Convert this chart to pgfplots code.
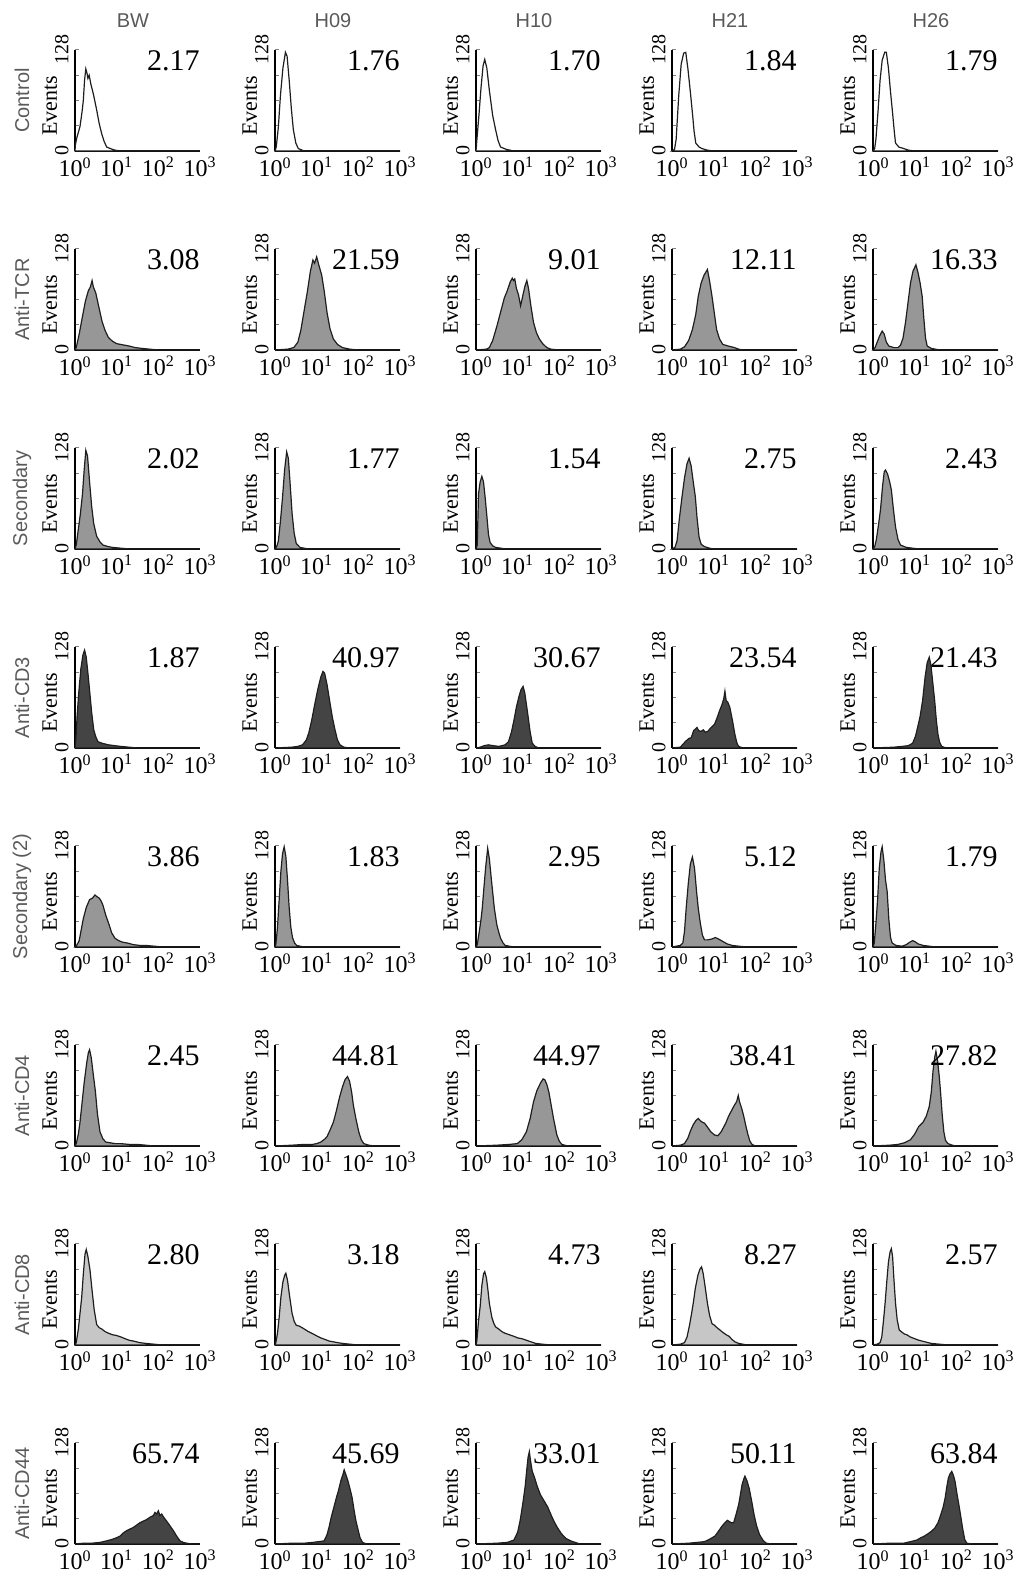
\documentclass[border=0pt]{standalone}
\usepackage{fontspec}
\setmainfont{Liberation Serif}
\setsansfont{Liberation Sans}
\usepackage{pgfplots}
\pgfplotsset{compat=1.18}
\definecolor{gmid}{HTML}{979797}
\definecolor{gdark}{HTML}{444444}
\definecolor{glight}{HTML}{C6C6C6}
\definecolor{labgray}{HTML}{5A5A5A}
\definecolor{outl}{HTML}{1E1E1E}
\newcommand{\yl}[1]{{\fontsize{10}{10}\selectfont #1}}
\pgfplotsset{panel/.style={scale only axis, width=62.5pt, height=50.5pt, anchor=south west,
 xmin=0,xmax=3,ymin=0,ymax=128,
 axis lines*=left, axis line style={-, line width=0.7pt}, clip=false,
 xtick={0,1,2,3}, xticklabels={10\textsuperscript{0},10\textsuperscript{1},10\textsuperscript{2},10\textsuperscript{3}},
 xtick style={draw=none},
 ytick={0,32,64,96,128}, yticklabels={\yl{0},,,,\yl{128}},
 tick align=inside, major tick length=2.2pt, ytick style={line width=0.5pt},
 xticklabel style={font=\fontsize{12}{12}\selectfont, inner sep=1pt, yshift=-2pt},
 yticklabel style={rotate=90, anchor=south, inner sep=3pt},
 ylabel={Events},
 ylabel style={at={(axis description cs:-0.14,0.45)}, anchor=south, inner sep=0pt, font=\fontsize{11}{11}\selectfont}}}
\newcommand{\panel}[5]{\begin{axis}[panel, at={(#1pt,#2pt)}]
\addplot[draw=outl, line width=0.6pt, fill=#3] coordinates {#5} \closedcycle;
\node[anchor=north east, inner sep=0pt, font=\fontsize{15}{15}\selectfont] at (rel axis cs:1,1) {#4};
\end{axis}}
\begin{document}
\begin{tikzpicture}
\path[use as bounding box] (0,0) rectangle (510pt,786pt);
% Row 1: Control
\panel{37.5}{710.5}{white}{2.17}{(0,0)(0.01,8)(0.04,16)(0.12,31)(0.17,50)(0.2,64)(0.23,90)(0.26,104)(0.29,98)(0.31,92)(0.34,96)(0.38,85)(0.45,70)(0.52,52)(0.58,35)(0.64,22)(0.7,12)(0.76,5)(0.85,3)(0.96,1)(1.1,0)(3,0)}
\panel{137.5}{710.5}{white}{1.76}{(0,0)(0.03,5)(0.08,30)(0.13,70)(0.19,105)(0.25,125)(0.29,120)(0.34,90)(0.39,55)(0.44,27)(0.5,10)(0.56,3)(0.7,0)(3,0)}
\panel{238}{710.5}{white}{1.70}{(0,0)(0.03,20)(0.07,45)(0.12,80)(0.17,108)(0.21,116)(0.26,105)(0.32,77)(0.4,45)(0.47,27)(0.53,13)(0.59,5)(0.73,2)(0.9,0)(3,0)}
\panel{336}{710.5}{white}{1.84}{(0,0)(0.06,2)(0.1,15)(0.16,69)(0.22,110)(0.28,124)(0.33,125)(0.38,105)(0.44,75)(0.49,48)(0.53,25)(0.57,10)(0.65,5)(0.72,3)(0.85,1)(1,0)(3,0)}
\panel{436.5}{710.5}{white}{1.79}{(0,0)(0.04,3)(0.07,15)(0.12,50)(0.17,90)(0.22,115)(0.28,125)(0.32,125)(0.37,105)(0.42,75)(0.47,48)(0.51,25)(0.54,10)(0.62,5)(0.74,3)(0.85,1)(1.0,0)(3,0)}
% Row 2: Anti-TCR
\panel{37.5}{611}{gmid}{3.08}{(0,0)(0.03,3)(0.1,20)(0.17,40)(0.25,62)(0.32,75)(0.37,80)(0.41,88)(0.44,80)(0.5,72)(0.57,55)(0.65,36)(0.72,25)(0.8,16)(0.9,11)(1.0,8)(1.1,7)(1.2,6)(1.3,5)(1.45,3)(1.6,2)(1.8,1)(2.0,0)(3,0)}
\panel{137.5}{611}{gmid}{21.59}{(0,0)(0.3,1)(0.45,3)(0.55,10)(0.62,25)(0.7,50)(0.78,75)(0.85,100)(0.91,114)(0.95,110)(1.0,118)(1.05,108)(1.12,95)(1.18,75)(1.25,47)(1.32,27)(1.4,14)(1.5,7)(1.62,3)(1.8,1)(2,0)(3,0)}
\panel{238}{611}{gmid}{9.01}{(0,0)(0.25,1)(0.32,3)(0.4,12)(0.5,30)(0.6,50)(0.68,66)(0.75,75)(0.82,86)(0.87,91)(0.9,88)(0.93,90)(0.97,78)(1.02,70)(1.07,56)(1.12,68)(1.17,80)(1.22,88)(1.26,78)(1.32,55)(1.38,35)(1.45,22)(1.52,14)(1.6,8)(1.7,3)(1.8,1)(2,0)(3,0)}
\panel{336}{611}{gmid}{12.11}{(0,0)(0.2,1)(0.3,4)(0.4,12)(0.49,26)(0.57,45)(0.63,68)(0.7,85)(0.77,95)(0.85,102)(0.9,88)(0.96,68)(1.02,45)(1.07,26)(1.14,14)(1.22,7)(1.35,5)(1.5,3)(1.6,1)(1.7,0)(3,0)}
\panel{436.5}{611}{gmid}{16.33}{(0,0)(0.05,3)(0.1,10)(0.16,18)(0.22,24)(0.27,20)(0.32,10)(0.38,5)(0.5,3)(0.6,3)(0.66,6)(0.72,15)(0.78,35)(0.84,60)(0.9,85)(0.96,100)(1.03,108)(1.08,98)(1.13,85)(1.18,68)(1.22,40)(1.26,15)(1.3,5)(1.4,2)(1.6,0)(3,0)}
% Row 3: Secondary
\panel{37.5}{511.5}{gmid}{2.02}{(0,0)(0.03,5)(0.08,25)(0.13,45)(0.18,70)(0.22,100)(0.26,125)(0.3,118)(0.35,85)(0.4,54)(0.45,32)(0.52,16)(0.6,9)(0.67,5)(0.8,3)(0.9,2)(1.1,1)(1.3,0)(3,0)}
\panel{137.5}{511.5}{gmid}{1.77}{(0,0)(0.04,3)(0.08,10)(0.13,35)(0.18,65)(0.23,100)(0.28,123)(0.32,115)(0.36,85)(0.41,45)(0.46,20)(0.51,7)(0.6,2)(0.7,1)(0.8,0)(3,0)}
\panel{238}{511.5}{gmid}{1.54}{(0,0)(0.03,5)(0.06,70)(0.1,85)(0.14,92)(0.18,85)(0.22,65)(0.26,42)(0.3,18)(0.34,8)(0.4,4)(0.47,2)(0.6,1)(0.7,0)(3,0)}
\panel{336}{511.5}{gmid}{2.75}{(0,0)(0.07,2)(0.12,10)(0.18,40)(0.24,66)(0.3,90)(0.36,108)(0.41,115)(0.46,105)(0.51,85)(0.56,66)(0.6,40)(0.65,15)(0.7,6)(0.78,3)(0.9,1)(1.0,0)(3,0)}
\panel{436.5}{511.5}{gmid}{2.43}{(0,0)(0.04,3)(0.08,12)(0.13,30)(0.18,50)(0.23,80)(0.27,98)(0.3,100)(0.35,95)(0.4,85)(0.44,75)(0.49,50)(0.54,28)(0.6,12)(0.66,5)(0.8,2)(0.95,1)(1.1,0)(3,0)}
% Row 4: Anti-CD3
\panel{37.5}{412}{gdark}{1.87}{(0,0)(0.02,10)(0.05,40)(0.09,70)(0.14,100)(0.19,118)(0.23,124)(0.27,115)(0.31,95)(0.35,73)(0.4,45)(0.45,23)(0.5,14)(0.55,8)(0.65,6)(0.8,4)(0.95,3)(1.1,2)(1.3,1)(1.5,0)(3,0)}
\panel{137.5}{412}{gdark}{40.97}{(0,0)(0.4,1)(0.55,2)(0.66,4)(0.75,10)(0.81,19)(0.88,35)(0.96,57)(1.03,75)(1.1,90)(1.15,97)(1.19,95)(1.25,80)(1.32,57)(1.38,38)(1.44,23)(1.5,10)(1.56,4)(1.65,1)(1.8,0)(3,0)}
\panel{238}{412}{gdark}{30.67}{(0,0)(0.1,1)(0.2,3)(0.3,4)(0.4,3)(0.55,2)(0.7,4)(0.78,8)(0.85,20)(0.91,35)(0.97,52)(1.03,65)(1.08,74)(1.13,78)(1.17,70)(1.21,55)(1.25,40)(1.3,20)(1.35,6)(1.42,2)(1.5,0)(3,0)}
\panel{336}{412}{gdark}{23.54}{(0,0)(0.2,1)(0.25,4)(0.32,8)(0.4,12)(0.46,13)(0.52,22)(0.56,24)(0.6,26)(0.64,22)(0.7,21)(0.75,23)(0.8,20)(0.86,21)(0.92,25)(0.98,28)(1.02,30)(1.08,38)(1.14,47)(1.2,55)(1.24,62)(1.27,72)(1.3,60)(1.34,58)(1.39,51)(1.45,35)(1.51,17)(1.56,6)(1.6,2)(1.7,0)(3,0)}
\panel{436.5}{412}{gdark}{21.43}{(0,0)(0.5,1)(0.7,2)(0.85,3)(0.95,6)(1.02,15)(1.07,26)(1.13,40)(1.19,60)(1.25,90)(1.3,108)(1.35,115)(1.39,105)(1.44,80)(1.48,60)(1.52,35)(1.56,17)(1.6,7)(1.65,2)(1.75,0)(3,0)}
% Row 5: Secondary (2)
\panel{37.5}{312.5}{gmid}{3.86}{(0,0)(0.04,2)(0.1,8)(0.15,22)(0.2,36)(0.27,50)(0.35,60)(0.42,62)(0.48,66)(0.52,64)(0.58,62)(0.63,58)(0.67,53)(0.74,40)(0.82,28)(0.88,18)(0.96,11)(1.05,8)(1.15,6)(1.26,5)(1.4,3)(1.55,2)(1.7,2)(1.9,1)(2.1,0)(3,0)}
\panel{137.5}{312.5}{gmid}{1.83}{(0,0)(0.02,3)(0.06,25)(0.1,60)(0.14,95)(0.18,118)(0.22,127)(0.26,115)(0.3,85)(0.34,50)(0.38,25)(0.42,12)(0.47,5)(0.52,2)(0.6,1)(0.7,0)(3,0)}
\panel{238}{312.5}{gmid}{2.95}{(0,0)(0.03,3)(0.08,20)(0.12,35)(0.15,49)(0.19,75)(0.23,100)(0.28,125)(0.32,112)(0.37,85)(0.44,49)(0.5,28)(0.55,18)(0.59,11)(0.65,5)(0.7,2)(0.8,1)(0.9,0)(3,0)}
\panel{336}{312.5}{gmid}{5.12}{(0,0)(0.1,1)(0.2,2)(0.26,5)(0.3,20)(0.34,49)(0.39,80)(0.44,105)(0.49,114)(0.54,100)(0.59,70)(0.63,49)(0.68,30)(0.73,15)(0.78,9)(0.85,9)(0.95,10)(1.04,12)(1.12,10)(1.22,7)(1.32,4)(1.44,2)(1.6,1)(1.8,0)(3,0)}
\panel{436.5}{312.5}{gmid}{1.79}{(0,0)(0.03,5)(0.07,30)(0.11,60)(0.15,100)(0.19,120)(0.22,127)(0.26,110)(0.3,85)(0.34,70)(0.38,35)(0.42,12)(0.46,5)(0.55,2)(0.7,1)(0.8,3)(0.88,6)(0.95,8)(1.0,7)(1.08,4)(1.2,2)(1.35,1)(1.5,0)(3,0)}
% Row 6: Anti-CD4
\panel{37.5}{213}{gmid}{2.45}{(0,0)(0.03,3)(0.08,15)(0.12,30)(0.16,50)(0.22,80)(0.28,105)(0.32,118)(0.35,122)(0.39,112)(0.44,90)(0.49,69)(0.54,40)(0.6,18)(0.67,9)(0.74,5)(0.85,4)(0.96,3)(1.1,3)(1.3,2)(1.5,2)(1.7,1)(1.9,0)(3,0)}
\panel{137.5}{213}{gmid}{44.81}{(0,0)(0.4,1)(0.7,2)(0.9,2)(1.0,3)(1.1,5)(1.2,9)(1.25,12)(1.32,20)(1.4,30)(1.47,44)(1.55,62)(1.62,75)(1.68,84)(1.74,88)(1.79,82)(1.84,68)(1.88,52)(1.94,35)(2.01,18)(2.07,8)(2.13,3)(2.25,1)(2.4,0)(3,0)}
\panel{238}{213}{gmid}{44.97}{(0,0)(0.5,1)(0.8,2)(0.99,3)(1.1,8)(1.21,18)(1.3,35)(1.38,56)(1.46,70)(1.55,80)(1.61,85)(1.65,84)(1.7,78)(1.75,68)(1.79,56)(1.86,35)(1.94,14)(2.0,6)(2.06,2)(2.2,0)(3,0)}
\panel{336}{213}{gmid}{38.41}{(0,0)(0.2,1)(0.3,3)(0.38,10)(0.45,20)(0.51,27)(0.57,32)(0.63,35)(0.68,32)(0.73,30)(0.78,29)(0.85,24)(0.93,18)(1.02,14)(1.1,13)(1.18,18)(1.24,24)(1.29,29)(1.36,38)(1.44,46)(1.5,52)(1.55,56)(1.59,64)(1.62,56)(1.67,48)(1.72,38)(1.77,26)(1.82,15)(1.87,6)(1.92,2)(2.0,0)(3,0)}
\panel{436.5}{213}{gmid}{27.82}{(0,0)(0.4,1)(0.6,2)(0.75,4)(0.9,8)(1.0,15)(1.1,25)(1.2,30)(1.28,38)(1.35,50)(1.4,69)(1.44,95)(1.48,112)(1.51,120)(1.55,108)(1.59,88)(1.62,69)(1.66,40)(1.7,18)(1.74,7)(1.8,3)(1.9,1)(2,0)(3,0)}
% Row 7: Anti-CD8
\panel{37.5}{113.5}{glight}{2.80}{(0,0)(0.03,3)(0.08,20)(0.12,40)(0.16,60)(0.2,90)(0.24,115)(0.27,121)(0.31,112)(0.36,95)(0.4,74)(0.46,45)(0.52,26)(0.58,22)(0.65,20)(0.72,17)(0.8,15)(0.9,13)(1.0,12)(1.11,10)(1.2,8)(1.3,6)(1.4,5)(1.55,3)(1.7,2)(1.9,1)(2.1,0)(3,0)}
\panel{137.5}{113.5}{glight}{3.18}{(0,0)(0.02,3)(0.06,15)(0.1,35)(0.14,60)(0.19,80)(0.23,88)(0.26,91)(0.3,82)(0.35,62)(0.41,40)(0.46,30)(0.51,25)(0.58,24)(0.65,22)(0.71,20)(0.8,17)(0.88,15)(0.95,13)(1.02,11)(1.1,9)(1.2,7)(1.3,5)(1.4,4)(1.5,3)(1.62,2)(1.8,1)(2,0)(3,0)}
\panel{238}{113.5}{glight}{4.73}{(0,0)(0.02,5)(0.06,30)(0.1,49)(0.14,75)(0.18,90)(0.21,93)(0.25,85)(0.29,68)(0.32,53)(0.38,35)(0.43,27)(0.47,23)(0.55,20)(0.62,17)(0.69,15)(0.8,13)(0.91,11)(1.0,9)(1.1,8)(1.21,6)(1.32,4)(1.43,2)(1.6,1)(1.8,0)(3,0)}
\panel{336}{113.5}{glight}{8.27}{(0,0)(0.2,1)(0.3,3)(0.36,10)(0.42,25)(0.47,40)(0.51,53)(0.56,72)(0.62,88)(0.67,96)(0.71,99)(0.75,90)(0.8,72)(0.85,53)(0.9,38)(0.96,27)(1.02,25)(1.08,22)(1.15,19)(1.22,16)(1.3,13)(1.37,11)(1.44,7)(1.51,4)(1.6,2)(1.7,1)(1.8,0)(3,0)}
\panel{436.5}{113.5}{glight}{2.57}{(0,0)(0.1,1)(0.17,3)(0.21,10)(0.25,30)(0.29,53)(0.33,80)(0.37,105)(0.41,118)(0.44,122)(0.47,112)(0.5,85)(0.54,53)(0.58,32)(0.63,19)(0.7,16)(0.75,14)(0.81,13)(0.9,10)(1.0,8)(1.1,6)(1.25,4)(1.4,2)(1.6,1)(1.8,0)(3,0)}
% Row 8: Anti-CD44
\panel{37.5}{14}{gdark}{65.74}{(0,0)(0.2,1)(0.4,1)(0.6,2)(0.76,4)(0.9,6)(1.0,8)(1.08,10)(1.16,14)(1.24,17)(1.32,19)(1.4,21)(1.48,24)(1.56,27)(1.64,29)(1.72,31)(1.8,34)(1.88,36)(1.92,40)(1.96,38)(2.0,42)(2.04,36)(2.08,38)(2.14,33)(2.2,29)(2.28,23)(2.36,17)(2.44,10)(2.52,4)(2.6,2)(2.68,1)(2.8,0)(3,0)}
\panel{137.5}{14}{gdark}{45.69}{(0,0)(0.4,1)(0.7,1)(0.9,2)(1.05,3)(1.18,4)(1.25,12)(1.3,22)(1.35,34)(1.42,48)(1.48,60)(1.52,67)(1.58,80)(1.63,88)(1.66,94)(1.7,88)(1.75,80)(1.8,70)(1.85,59)(1.9,42)(1.94,30)(1.98,21)(2.04,8)(2.1,2)(2.2,0)(3,0)}
\panel{238}{14}{gdark}{33.01}{(0,0)(0.5,1)(0.75,2)(0.91,5)(1.0,15)(1.06,30)(1.12,50)(1.18,73)(1.22,95)(1.25,110)(1.28,117)(1.31,105)(1.35,92)(1.4,85)(1.47,73)(1.55,62)(1.63,55)(1.72,47)(1.8,37)(1.87,29)(1.94,22)(2.05,13)(2.16,7)(2.27,4)(2.38,2)(2.5,0)(3,0)}
\panel{336}{14}{gdark}{50.11}{(0,0)(0.4,1)(0.6,2)(0.78,3)(0.9,6)(1.03,10)(1.1,15)(1.19,22)(1.27,27)(1.33,30)(1.36,29)(1.42,27)(1.48,27)(1.54,38)(1.6,50)(1.64,62)(1.68,75)(1.72,82)(1.75,86)(1.8,80)(1.85,71)(1.91,55)(1.97,37)(2.03,23)(2.1,12)(2.18,5)(2.26,1)(2.4,0)(3,0)}
\panel{436.5}{14}{gdark}{63.84}{(0,0)(0.4,1)(0.74,1)(0.9,3)(1.05,5)(1.15,8)(1.23,10)(1.32,13)(1.4,16)(1.48,20)(1.56,27)(1.62,36)(1.68,46)(1.73,58)(1.77,72)(1.81,84)(1.85,89)(1.89,92)(1.93,87)(1.97,79)(2.02,62)(2.06,50)(2.1,37)(2.15,20)(2.2,6)(2.25,1)(2.4,0)(3,0)}
% column headers
\begin{scope}[every node/.style={font=\sffamily\fontsize{10}{10}\selectfont, text=labgray}]
\node at (66.5pt,775.5pt) {BW};
\node at (166.5pt,775.5pt) {H09};
\node at (267pt,775.5pt) {H10};
\node at (365pt,775.5pt) {H21};
\node at (465.5pt,775.5pt) {H26};
\end{scope}
% row labels
\begin{scope}[every node/.style={font=\sffamily\fontsize{10}{10}\selectfont, text=labgray, rotate=90}]
\node at (11pt,735.75pt) {Control};
\node at (11pt,636.25pt) {Anti-TCR};
\node at (11pt,536.75pt) {Secondary};
\node at (11pt,437.25pt) {Anti-CD3};
\node at (11pt,337.75pt) {Secondary (2)};
\node at (11pt,238.25pt) {Anti-CD4};
\node at (11pt,138.75pt) {Anti-CD8};
\node at (11pt,39.25pt) {Anti-CD44};
\end{scope}
\end{tikzpicture}
\end{document}
